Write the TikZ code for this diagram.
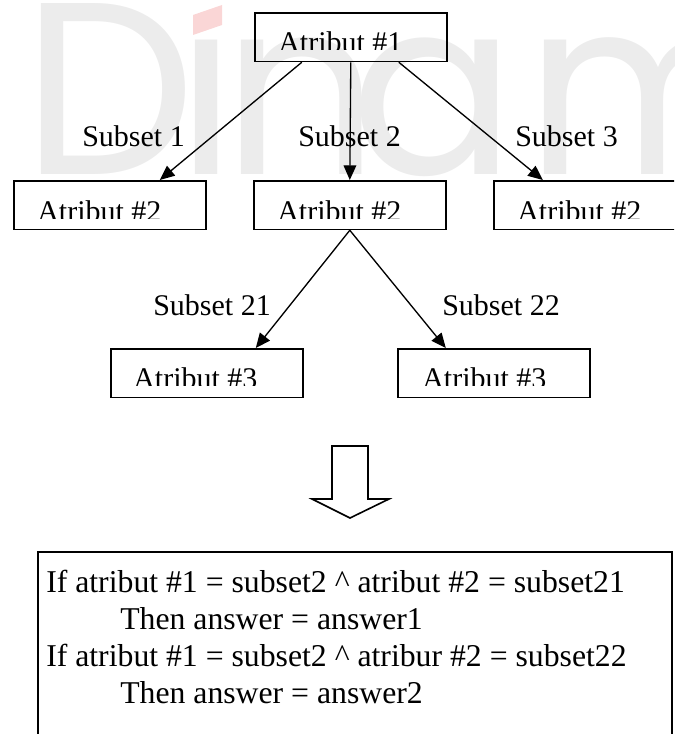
\documentclass[tikz,border=0pt]{standalone}
\usepackage{fontspec}
\setmainfont{Liberation Serif}
\newfontfamily\wmfont{Poppins}
\usetikzlibrary{arrows.meta,calc}
\definecolor{wmgray}{RGB}{236,236,236}
\definecolor{wmpink}{RGB}{250,214,214}
\tikzset{
  wm/.style={font=\wmfont\fontsize{184pt}{184pt}\selectfont, text=wmgray, inner sep=0pt, anchor=base west},
  treebox/.style={draw, line width=1.2pt, anchor=north west, minimum width=144pt, minimum height=36.5pt, inner sep=0pt},
  boxtext/.style={font=\fontsize{22.5pt}{27pt}\selectfont, inner sep=0pt, anchor=base west},
  lbl/.style={font=\fontsize{22.5pt}{27pt}\selectfont, inner sep=0pt, anchor=base west},
  rule/.style={font=\fontsize{23.8pt}{28pt}\selectfont, inner sep=0pt, anchor=base west},
  arr/.style={line width=1pt, -{Triangle[length=11pt,width=9.5pt]}},
}
\begin{document}
\begin{tikzpicture}[x=0.75pt,y=-0.75pt]
\useasboundingbox (0,0) rectangle (674,734);
\clip (0,0) rectangle (674,734);
% watermark
\node[wm] (wmD) at (22,175) {D};
\node[wm] (wmi) at (176,175) {\char"0131};
\node[wm] (wmn) at (222,175) {n};
\node[wm] (wma) at (350,175) {a};
\node[wm] (wmm) at (525,175) {m};
\fill[wmpink] (193,15) -- (222,5) -- (222,25) -- (193,35) -- cycle;
% boxes
\node[treebox] (r) at (254,12) {};
\node[treebox] (a) at (13,180) {};
\node[treebox] (m) at (253,180) {};
\node[treebox] (c) at (493,180) {};
\node[treebox] (d) at (110,348) {};
\node[treebox] (e) at (397,348) {};
% clipped box texts
\begin{scope}\clip (254,12) rectangle (446,50);
\node[boxtext] (rt) at (278,53) {Atribut \#1};\end{scope}
\begin{scope}\clip (13,180) rectangle (207,218);
\node[boxtext] (at) at (37,221) {Atribut \#2};\end{scope}
\begin{scope}\clip (253,180) rectangle (447,218);
\node[boxtext] (mt) at (277,221) {Atribut \#2};\end{scope}
\begin{scope}\clip (493,180) rectangle (690,218);
\node[boxtext] (ct) at (517,221) {Atribut \#2};\end{scope}
\begin{scope}\clip (110,348) rectangle (302,385);
\node[boxtext] (dt) at (133,388) {Atribut \#3};\end{scope}
\begin{scope}\clip (397,348) rectangle (589,385);
\node[boxtext] (et) at (422,388) {Atribut \#3};\end{scope}
% labels
\node[lbl] (s1) at (82,147) {Subset 1};
\node[lbl] (s2) at (298,147) {Subset 2};
\node[lbl] (s3) at (515,147) {Subset 3};
\node[lbl] (s21) at (153,315) {Subset 21};
\node[lbl] (s22) at (442,315) {Subset 22};
% connectors
\draw[arr] ($(r.south)+(-49,0)$) -- ($(a.north)+(50,0)$);
\draw[arr] (r.south) -- (m.north);
\draw[arr] ($(r.south)+(48,0)$) -- ($(c.north)+(-47,0)$);
\draw[arr] (m.south) -- ($(d.north)+(49,0)$);
\draw[arr] (m.south) -- ($(e.north)+(-48,0)$);
% block arrow
\draw[line width=1.2pt, line join=miter] (332,446) -- (368,446) -- (368,499) -- (389,499) -- (350,518) -- (312,499) -- (332,499) -- cycle;
% result box
\node[draw, line width=1.2pt, anchor=north west, minimum width=475.5pt, minimum height=170pt, inner sep=0pt] (res) at (37,551) {};
\node[rule] (l1) at (46,592) {If atribut \#1 = subset2 \textasciicircum{} atribut \#2 = subset21};
\node[rule] (l2) at (120,629) {Then answer = answer1};
\node[rule] (l3) at (46,666) {If atribut \#1 = subset2 \textasciicircum{} atribur \#2 = subset22};
\node[rule] (l4) at (120,703) {Then answer = answer2};
\end{tikzpicture}
\end{document}
